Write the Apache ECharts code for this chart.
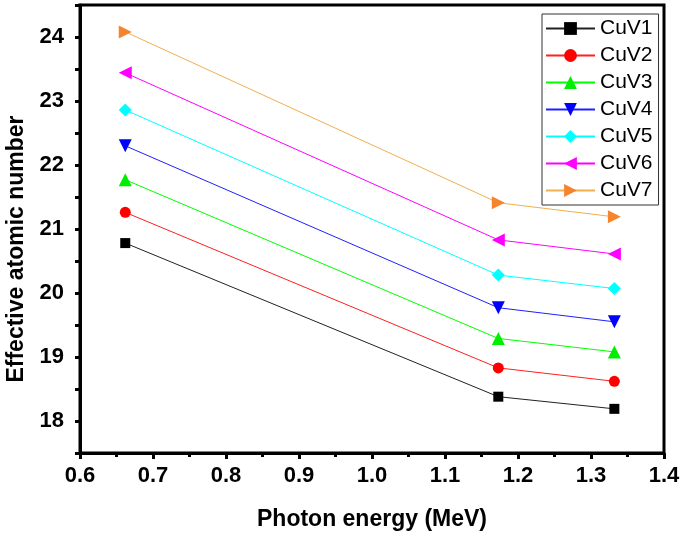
<!DOCTYPE html>
<html>
<head>
<meta charset="utf-8">
<script src="https://cdn.jsdelivr.net/npm/echarts@6/dist/echarts.min.js"></script>
<style>
html,body{margin:0;padding:0;background:#fff;}
#chart{width:685px;height:534px;}
</style>
</head>
<body>
<div id="chart"></div>
<script>
const energies = [0.662, 1.173, 1.332];
const seriesNames = ['CuV1','CuV2','CuV3','CuV4','CuV5','CuV6','CuV7'];
const CuV1 = [20.78, 18.38, 18.19];
const CuV2 = [21.26, 18.83, 18.62];
const CuV3 = [21.77, 19.29, 19.08];
const CuV4 = [22.30, 19.77, 19.55];
const CuV5 = [22.86, 20.28, 20.07];
const CuV6 = [23.44, 20.83, 20.61];
const CuV7 = [24.08, 21.41, 21.19];
const values = [CuV1, CuV2, CuV3, CuV4, CuV5, CuV6, CuV7];

const markerColors = ['#000000','#ff0000','#00ee00','#0000ff','#00ffff','#ff00ff','#f5842c'];
const lineColors = ['#222222','#ff2020','#00ff00','#2020ff','#00ffff','#ff00ff','#f0b050'];
const symbols = [
  'rect',
  'circle',
  'triangle',
  'path://M0,0L12,0L6,11Z',
  'diamond',
  'path://M11,0L0,6L11,12Z',
  'path://M0,0L11,6L0,12Z'
];
const sizes = [10, 11, 13, 13, 13, 13, 13];
const FONT = 'Arial, "Liberation Sans", sans-serif';

const chart = echarts.init(document.getElementById('chart'), null, {renderer:'canvas'});
const series = seriesNames.map((n, i) => ({
  name: n,
  type: 'line',
  data: energies.map((x, j) => [x, values[i][j]]),
  symbol: symbols[i],
  symbolSize: sizes[i],
  itemStyle: {color: markerColors[i]},
  lineStyle: {color: lineColors[i], width: 1},
  emphasis: {disabled: true},
  animation: false
}));

chart.setOption({
  backgroundColor: '#ffffff',
  animation: false,
  grid: {left: 80, right: 21, top: 5, bottom: 81, containLabel: false, outerBoundsMode: 'none',
    show: true, borderColor: '#000', borderWidth: 3, backgroundColor: 'transparent'},
  legend: {
    orient: 'vertical',
    left: 542, top: 14,
    padding: [4, 6, 4, 3],
    borderColor: '#333', borderWidth: 1,
    itemWidth: 49, itemHeight: 16, itemGap: 6,
    textStyle: {fontFamily: FONT, fontSize: 21, color: '#000', lineHeight: 20, padding: [0,0,0,0]},
    data: seriesNames
  },
  xAxis: {
    type: 'value', min: 0.6, max: 1.4, interval: 0.1,
    name: 'Photon energy (MeV)', nameLocation: 'middle', nameGap: 55,
    nameTextStyle: {fontFamily: FONT, fontSize: 23, fontWeight: 'bold', color: '#000'},
    axisLine: {show: true, lineStyle: {color: '#000', width: 3}},
    axisTick: {show: true, inside: false, length: 6, lineStyle: {color: '#000', width: 3}},
    minorTick: {show: true, splitNumber: 2, length: 4, lineStyle: {color: '#000', width: 3}},
    splitLine: {show: false},
    axisLabel: {fontFamily: FONT, fontSize: 22, fontWeight: 'bold', color: '#000', margin: 12,
      formatter: v => (Math.round(v * 10) / 10).toFixed(1)}
  },
  yAxis: {
    type: 'value', min: 17.5, max: 24.5, interval: 0.5,
    name: 'Effective atomic number', nameLocation: 'middle', nameGap: 52,
    nameTextStyle: {fontFamily: FONT, fontSize: 23, fontWeight: 'bold', color: '#000', padding: [0, 40, 0, 0]},
    axisLine: {show: true, lineStyle: {color: '#000', width: 3}},
    axisTick: {show: true, inside: false, length: 5, lineStyle: {color: '#000', width: 3}},
    splitLine: {show: false},
    axisLabel: {fontFamily: FONT, fontSize: 22, fontWeight: 'bold', color: '#000', margin: 16,
      formatter: v => Math.abs(v - Math.round(v)) < 1e-6 ? String(Math.round(v)) : ''}
  },
  series: series
});
</script>
</body>
</html>
